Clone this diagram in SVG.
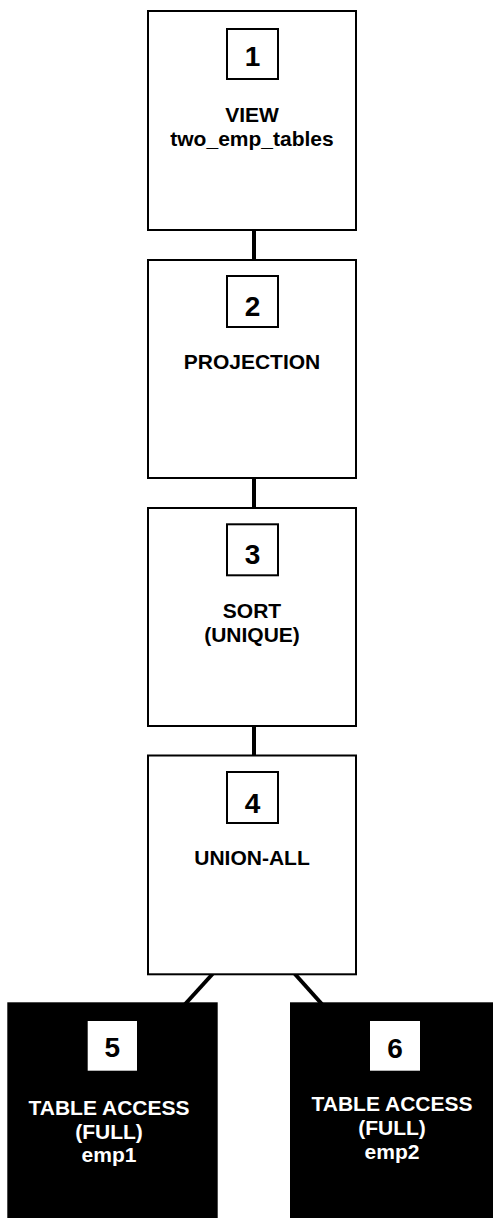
<svg xmlns="http://www.w3.org/2000/svg" width="493" height="1218" viewBox="0 0 493 1218">
<style>
.box{fill:#fff;stroke:#000;stroke-width:2}
.dark{fill:#000;stroke:none}
.num{fill:#fff;stroke:#000;stroke-width:2}
.numw{fill:#fff;stroke:none}
.conn{stroke:#000;stroke-width:4;fill:none}
text{font-family:"Liberation Sans",Arial,sans-serif;font-weight:bold;text-anchor:middle}
.d{font-size:28px;fill:#000}
.t{font-size:21px;fill:#000}
.tw{font-size:21px;fill:#fff}
</style>
<rect width="493" height="1218" fill="#fff"/>
<g id="connectors">
<line class="conn" x1="254" y1="230" x2="254" y2="260"/>
<line class="conn" x1="254" y1="478" x2="254" y2="508"/>
<line class="conn" x1="254" y1="726" x2="254" y2="756"/>
<line class="conn" x1="218" y1="968" x2="182.5" y2="1007"/>
<line class="conn" x1="289.5" y1="968" x2="324.5" y2="1007"/>
</g>
<g id="node1">
<rect class="box" x="148" y="11" width="208" height="219"/>
<rect class="num" x="227" y="29" width="51" height="50"/>
<text class="d" x="252.5" y="66">1</text>
<text class="t" x="252" y="121.7">VIEW</text>
<text class="t" x="252" y="145.7">two_emp_tables</text>
</g>
<g id="node2">
<rect class="box" x="148" y="260" width="208" height="218"/>
<rect class="num" x="227" y="276" width="51" height="51"/>
<text class="d" x="252.5" y="315.7">2</text>
<text class="t" x="252" y="369">PROJECTION</text>
</g>
<g id="node3">
<rect class="box" x="148" y="508" width="208" height="218"/>
<rect class="num" x="227" y="524.3" width="51" height="51"/>
<text class="d" x="252.5" y="564">3</text>
<text class="t" x="252" y="617.7">SORT</text>
<text class="t" x="252" y="641.7">(UNIQUE)</text>
</g>
<g id="node4">
<rect class="box" x="148" y="755.5" width="208" height="218.8"/>
<rect class="num" x="227" y="772" width="51" height="51"/>
<text class="d" x="252.5" y="812.7">4</text>
<text class="t" x="252" y="865">UNION-ALL</text>
</g>
<g id="node5">
<rect class="dark" x="7.3" y="1002.3" width="210.4" height="216"/>
<rect class="numw" x="87.7" y="1021" width="49.3" height="49.7"/>
<text class="d" x="112.3" y="1057.3">5</text>
<text class="tw" x="109" y="1115">TABLE ACCESS</text>
<text class="tw" x="109" y="1138.5">(FULL)</text>
<text class="tw" x="109" y="1162">emp1</text>
</g>
<g id="node6">
<rect class="dark" x="290" y="1002.3" width="211" height="216"/>
<rect class="numw" x="370" y="1021" width="50" height="49.7"/>
<text class="d" x="395" y="1058">6</text>
<text class="tw" x="392" y="1111">TABLE ACCESS</text>
<text class="tw" x="392" y="1135">(FULL)</text>
<text class="tw" x="392" y="1159">emp2</text>
</g>
</svg>
